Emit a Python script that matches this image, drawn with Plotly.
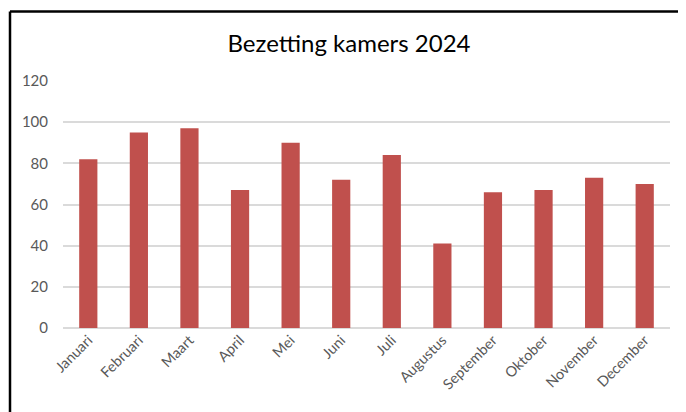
"""Bezetting kamers 2024 — Excel-style column chart in Plotly."""

import plotly.graph_objects as go

# ---------------------------------------------------------------------------
# Data
# ---------------------------------------------------------------------------

maanden = [
    "Januari", "Februari", "Maart", "April", "Mei", "Juni",
    "Juli", "Augustus", "September", "Oktober", "November", "December",
]
bezetting = [82, 95, 97, 67, 90, 72, 84, 41, 66, 67, 73, 70]
y_ticks = [0, 20, 40, 60, 80, 100, 120]

BAR_COLOR = "#C0504D"
GRID_COLOR = "#DADADA"
TEXT_GREY = "#595959"
FONT = "Lato, Liberation Sans, sans-serif"

# page body has an 8px margin, so figure coords are shifted by 8px
W, H = 686, 412
M_L, M_R, M_T, M_B = 55, 24, 73, 92

fig = go.Figure(go.Bar(
    x=maanden,
    y=bezetting,
    marker=dict(color=BAR_COLOR, line=dict(width=0)),
    width=0.36,
))

fig.update_layout(
    width=W, height=H,
    margin=dict(l=M_L, r=M_R, t=M_T, b=M_B, autoexpand=False),
    paper_bgcolor="white",
    plot_bgcolor="white",
    showlegend=False,
    font=dict(family=FONT, color=TEXT_GREY, size=12),
    title=dict(
        text="Bezetting kamers 2024",
        x=(349 - 8) / W, xref="container", xanchor="center",
        y=1 - 36 / H, yref="container", yanchor="middle",
        font=dict(family=FONT, size=24, color="#000000"),
    ),
    xaxis=dict(
        tickangle=-45,
        showgrid=False,
        showline=False,
        ticks="",
        tickfont=dict(size=14.5, color=TEXT_GREY),
        fixedrange=True,
    ),
    yaxis=dict(
        range=[0, 120],
        tickvals=y_ticks,
        showgrid=True,
        gridcolor=GRID_COLOR,
        gridwidth=2,
        zeroline=True,
        zerolinecolor=GRID_COLOR,
        zerolinewidth=2,
        showline=False,
        ticks="",
        ticklabelstandoff=14,
        tickfont=dict(size=15, color=TEXT_GREY),
        fixedrange=True,
    ),
)

# chart frame (only top and left edges are visible in the crop)
pw = W - M_L - M_R
ph = H - M_T - M_B
x_left = (2 - M_L) / pw
y_top = (H - M_B - 3.5) / ph
fig.add_shape(type="line", xref="paper", yref="paper",
              x0=x_left, x1=(W + 5 - M_L) / pw, y0=y_top, y1=y_top,
              line=dict(color="black", width=2.5))
fig.add_shape(type="line", xref="paper", yref="paper",
              x0=x_left, x1=x_left, y0=y_top, y1=(-M_B - 5) / ph,
              line=dict(color="black", width=2.5))

fig.write_html("out.html")
